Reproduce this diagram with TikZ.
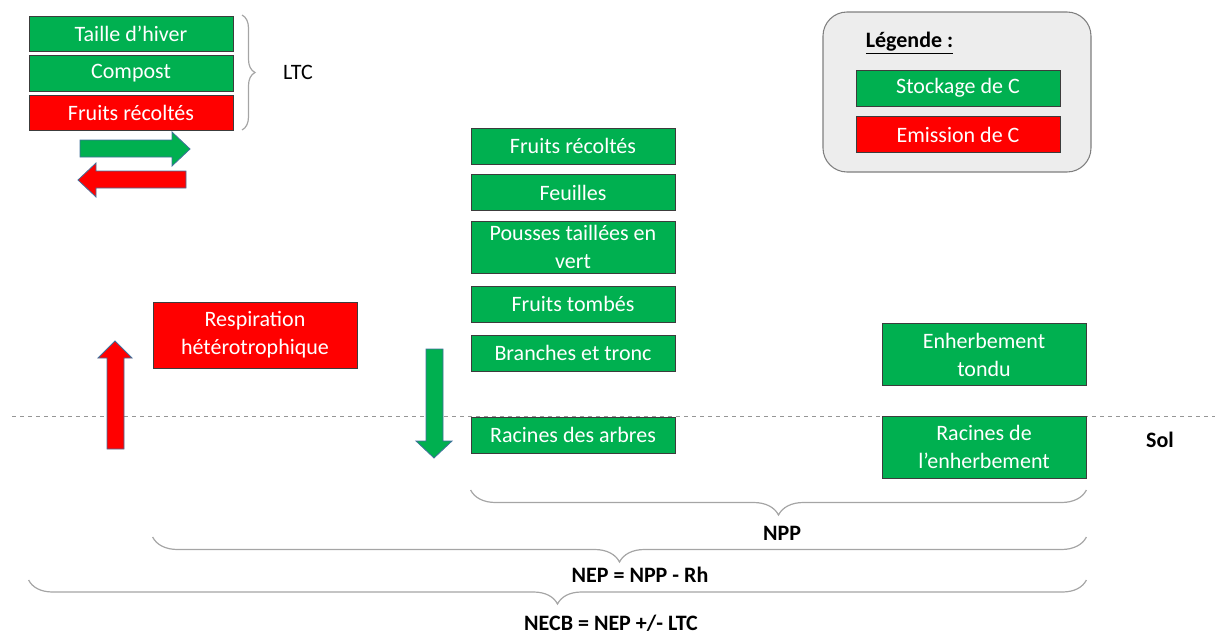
\documentclass[tikz,border=0pt]{standalone}
\usepackage{fontspec}
\setmainfont{Carlito}
\usetikzlibrary{positioning,decorations.pathreplacing}
\definecolor{stockgreen}{RGB}{0,176,80}
\definecolor{emisred}{RGB}{255,0,0}
\definecolor{boxedge}{RGB}{60,60,60}
\definecolor{arrowedge}{RGB}{65,113,156}
\definecolor{legfill}{RGB}{237,237,237}
\definecolor{legedge}{RGB}{127,127,127}
\definecolor{bracegrey}{RGB}{165,165,165}
\definecolor{soilline}{RGB}{150,150,150}

\begin{document}
\begin{tikzpicture}[
  x=0.75pt,y=-0.75pt,
  font=\fontsize{16.5}{21}\selectfont,
  box/.style={draw=boxedge,line width=0.6pt,text=white,align=center,
              minimum width=153pt,minimum height=27pt,inner sep=0pt},
  gbox/.style={box,fill=stockgreen},
  rbox/.style={box,fill=emisred},
  blk/.style={draw=arrowedge,line width=0.6pt},
  brc/.style={draw=bracegrey,line width=0.9pt,decorate,
              decoration={brace,amplitude=#1}},
  lbl/.style={font=\fontsize{16.5}{21}\selectfont\bfseries}
]
\useasboundingbox (0,0) rectangle (1215,636);

% niveau du sol
\draw[soilline,dashed,line width=0.7pt] (12,416) -- (1215,416);

% apports / exports (LTC)
\node[gbox,minimum height=26.3pt] (taille) at (131,33.5) {Taille d’hiver};
\node[gbox,minimum height=26.3pt,below=3pt of taille] (compost) {Compost};
\node[rbox,minimum height=26.3pt,below=3pt of compost] (fruitsR) {Fruits récoltés};
\draw[brc=9.75pt] (242,15) -- (242,130);
\node (ltc) at (298,72) {LTC};
\draw[blk,fill=stockgreen] (80,140) -- (172,140) -- (172,132) -- (190,149)
  -- (172,166) -- (172,157) -- (80,157) -- cycle;
\draw[blk,fill=emisred] (186,171) -- (96,171) -- (96,163) -- (78,180)
  -- (96,197) -- (96,188) -- (186,188) -- cycle;

% legende
\node[draw=legedge,fill=legfill,line width=0.8pt,rounded corners=18pt,
      minimum width=201pt,minimum height=120pt] (legend) at (957,92) {};
\node[lbl] (legtitle) at (909.5,43) {\underline{Légende :}};
\node[gbox] (stock) at (958,88) {Stockage de C};
\node[rbox,below=7.5pt of stock] (emis) {Emission de C};

% compartiments des arbres
\node[gbox] (fruitsA) at (573,146) {Fruits récoltés};
\node[gbox,below=7.5pt of fruitsA] (feuilles) {Feuilles};
\node[gbox,below=7pt of feuilles,minimum height=39pt] (pousses) {Pousses taillées en\\vert};
\node[gbox,below=9.5pt of pousses] (tombes) {Fruits tombés};
\node[gbox,below=9pt of tombes] (branches) {Branches et tronc};
\node[gbox] (racA) at (573,435) {Racines des arbres};

% enherbement
\node[gbox,minimum height=47pt] (enh) at (984,354.5) {Enherbement\\tondu};
\node[gbox,minimum height=46.5pt] (racE) at (984,447) {Racines de\\l’enherbement};
\node[lbl] (sol) at (1160,440) {Sol};

% respiration heterotrophe
\node[rbox,minimum height=49.5pt] (resp) at (255,335) {Respiration\\hétérotrophique};
\draw[blk,fill=emisred] (107,449) -- (107,358) -- (98,358) -- (115,341)
  -- (132,358) -- (124,358) -- (124,449) -- cycle;
\draw[blk,fill=stockgreen] (426,349) -- (443,349) -- (443,441) -- (452,441)
  -- (434,458) -- (416,441) -- (426,441) -- cycle;

% bilans
\draw[brc=18.75pt] (racE.east |- 0,490) -- (racA.west |- 0,490);
\node[lbl] (npp) at (782,533) {NPP};
\draw[brc=18.75pt] (racE.east |- 0,537) -- (resp.west |- 0,537);
\node[lbl] (nep) at (640,575) {NEP = NPP - Rh};
\draw[brc=18pt] (racE.east |- 0,580) -- (taille.west |- 0,580);
\node[lbl] (necb) at (611,623) {NECB = NEP +/- LTC};
\end{tikzpicture}
\end{document}
